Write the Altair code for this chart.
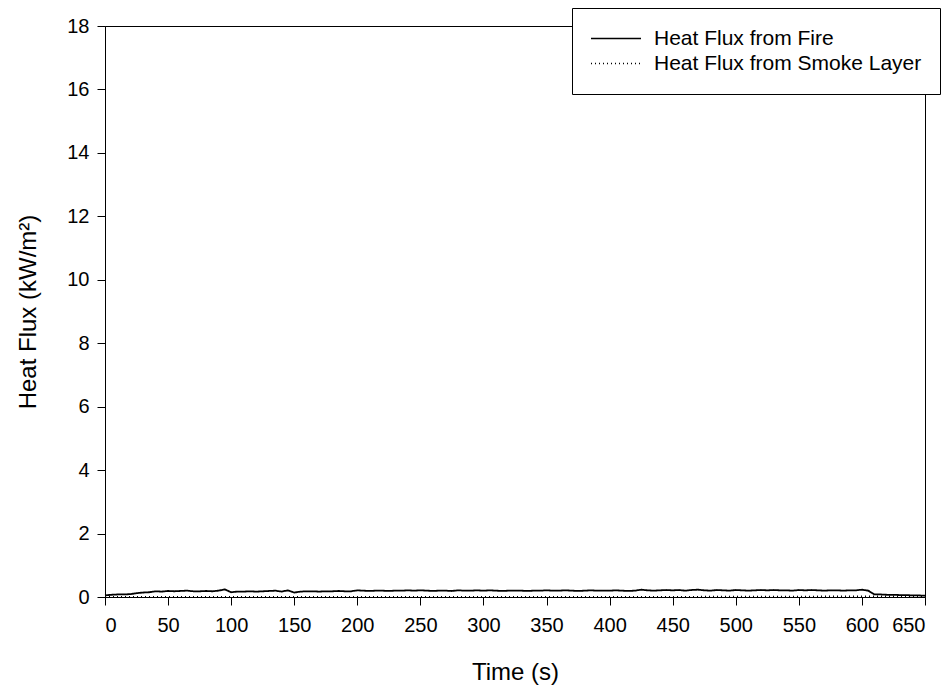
import altair as alt
import pandas as pd

time_fire = list(range(0, 655, 5))
fire = [0.05, 0.07, 0.08, 0.08, 0.09, 0.12, 0.14, 0.15, 0.18, 0.17,
        0.19, 0.18, 0.19, 0.20, 0.18, 0.18, 0.19, 0.18, 0.20, 0.24,
        0.15, 0.17, 0.17, 0.18, 0.17, 0.18, 0.19, 0.20, 0.17, 0.21,
        0.14, 0.17, 0.18, 0.18, 0.17, 0.18, 0.18, 0.19, 0.18, 0.18,
        0.21, 0.20, 0.19, 0.20, 0.20, 0.19, 0.20, 0.20, 0.21, 0.20,
        0.21, 0.20, 0.19, 0.20, 0.20, 0.19, 0.21, 0.20, 0.20, 0.21,
        0.20, 0.21, 0.20, 0.19, 0.20, 0.20, 0.20, 0.19, 0.20, 0.20,
        0.21, 0.20, 0.20, 0.21, 0.20, 0.19, 0.20, 0.21, 0.20, 0.20,
        0.20, 0.21, 0.20, 0.19, 0.20, 0.23, 0.21, 0.20, 0.21, 0.22,
        0.21, 0.22, 0.20, 0.22, 0.23, 0.21, 0.20, 0.22, 0.21, 0.20,
        0.22, 0.21, 0.20, 0.21, 0.22, 0.21, 0.22, 0.21, 0.21, 0.20,
        0.22, 0.21, 0.22, 0.21, 0.20, 0.21, 0.21, 0.20, 0.21, 0.21,
        0.23, 0.20, 0.08, 0.08, 0.07, 0.07, 0.06, 0.06, 0.05, 0.05,
        0.04]

time_smoke = [0, 50, 100, 150, 200, 250, 300, 350, 400, 450, 500, 550, 580, 600, 620, 650]
smoke = [0.0, 0.0, 0.0, 0.0, 0.0, 0.0, 0.0, 0.0, 0.005, 0.005, 0.01, 0.01, 0.02, 0.02, 0.02, 0.02]

series_names = ["Heat Flux from Fire", "Heat Flux from Smoke Layer"]

df = pd.concat([
    pd.DataFrame({"t": time_fire, "v": fire, "s": series_names[0]}),
    pd.DataFrame({"t": time_smoke, "v": smoke, "s": series_names[1]}),
])

font = "Liberation Sans"

chart = alt.Chart(df).mark_line(color="black", strokeWidth=1.8).encode(
    x=alt.X("t:Q", scale=alt.Scale(domain=[0, 650], nice=False),
            axis=alt.Axis(title="Time (s)", values=list(range(0, 651, 50)),
                          titlePadding=25, labelPadding=10)),
    y=alt.Y("v:Q", scale=alt.Scale(domain=[0, 18], nice=False),
            axis=alt.Axis(title="Heat Flux (kW/m²)", values=list(range(0, 19, 2)),
                          titlePadding=26, labelPadding=8)),
    strokeDash=alt.StrokeDash("s:N",
        scale=alt.Scale(domain=series_names, range=[[1, 0], [1, 3]]),
        legend=alt.Legend(title=None, orient="none", legendX=467, legendY=-18,
                          symbolType="stroke", symbolSize=2500,
                          symbolStrokeColor="black", symbolStrokeWidth=1.4,
                          labelFontSize=21, labelFont=font, labelColor="black",
                          strokeColor="black", fillColor="white",
                          padding=18, rowPadding=0, clipHeight=25,
                          labelOffset=12, labelLimit=400)),
    detail="s:N",
).properties(
    width=820, height=571,
    autosize=alt.AutoSizeParams(type="none"),
    padding={"left": 97, "top": 18, "right": 18, "bottom": 88},
).configure_view(
    stroke="black", strokeWidth=1,
).configure_axis(
    domainColor="black", tickColor="black", tickSize=8, grid=False,
    labelFont=font, labelFontSize=20, labelColor="black",
    titleFont=font, titleFontSize=24, titleFontWeight="normal", titleColor="black",
)

chart.save("out.html", embed_options={"renderer": "svg", "actions": False})
